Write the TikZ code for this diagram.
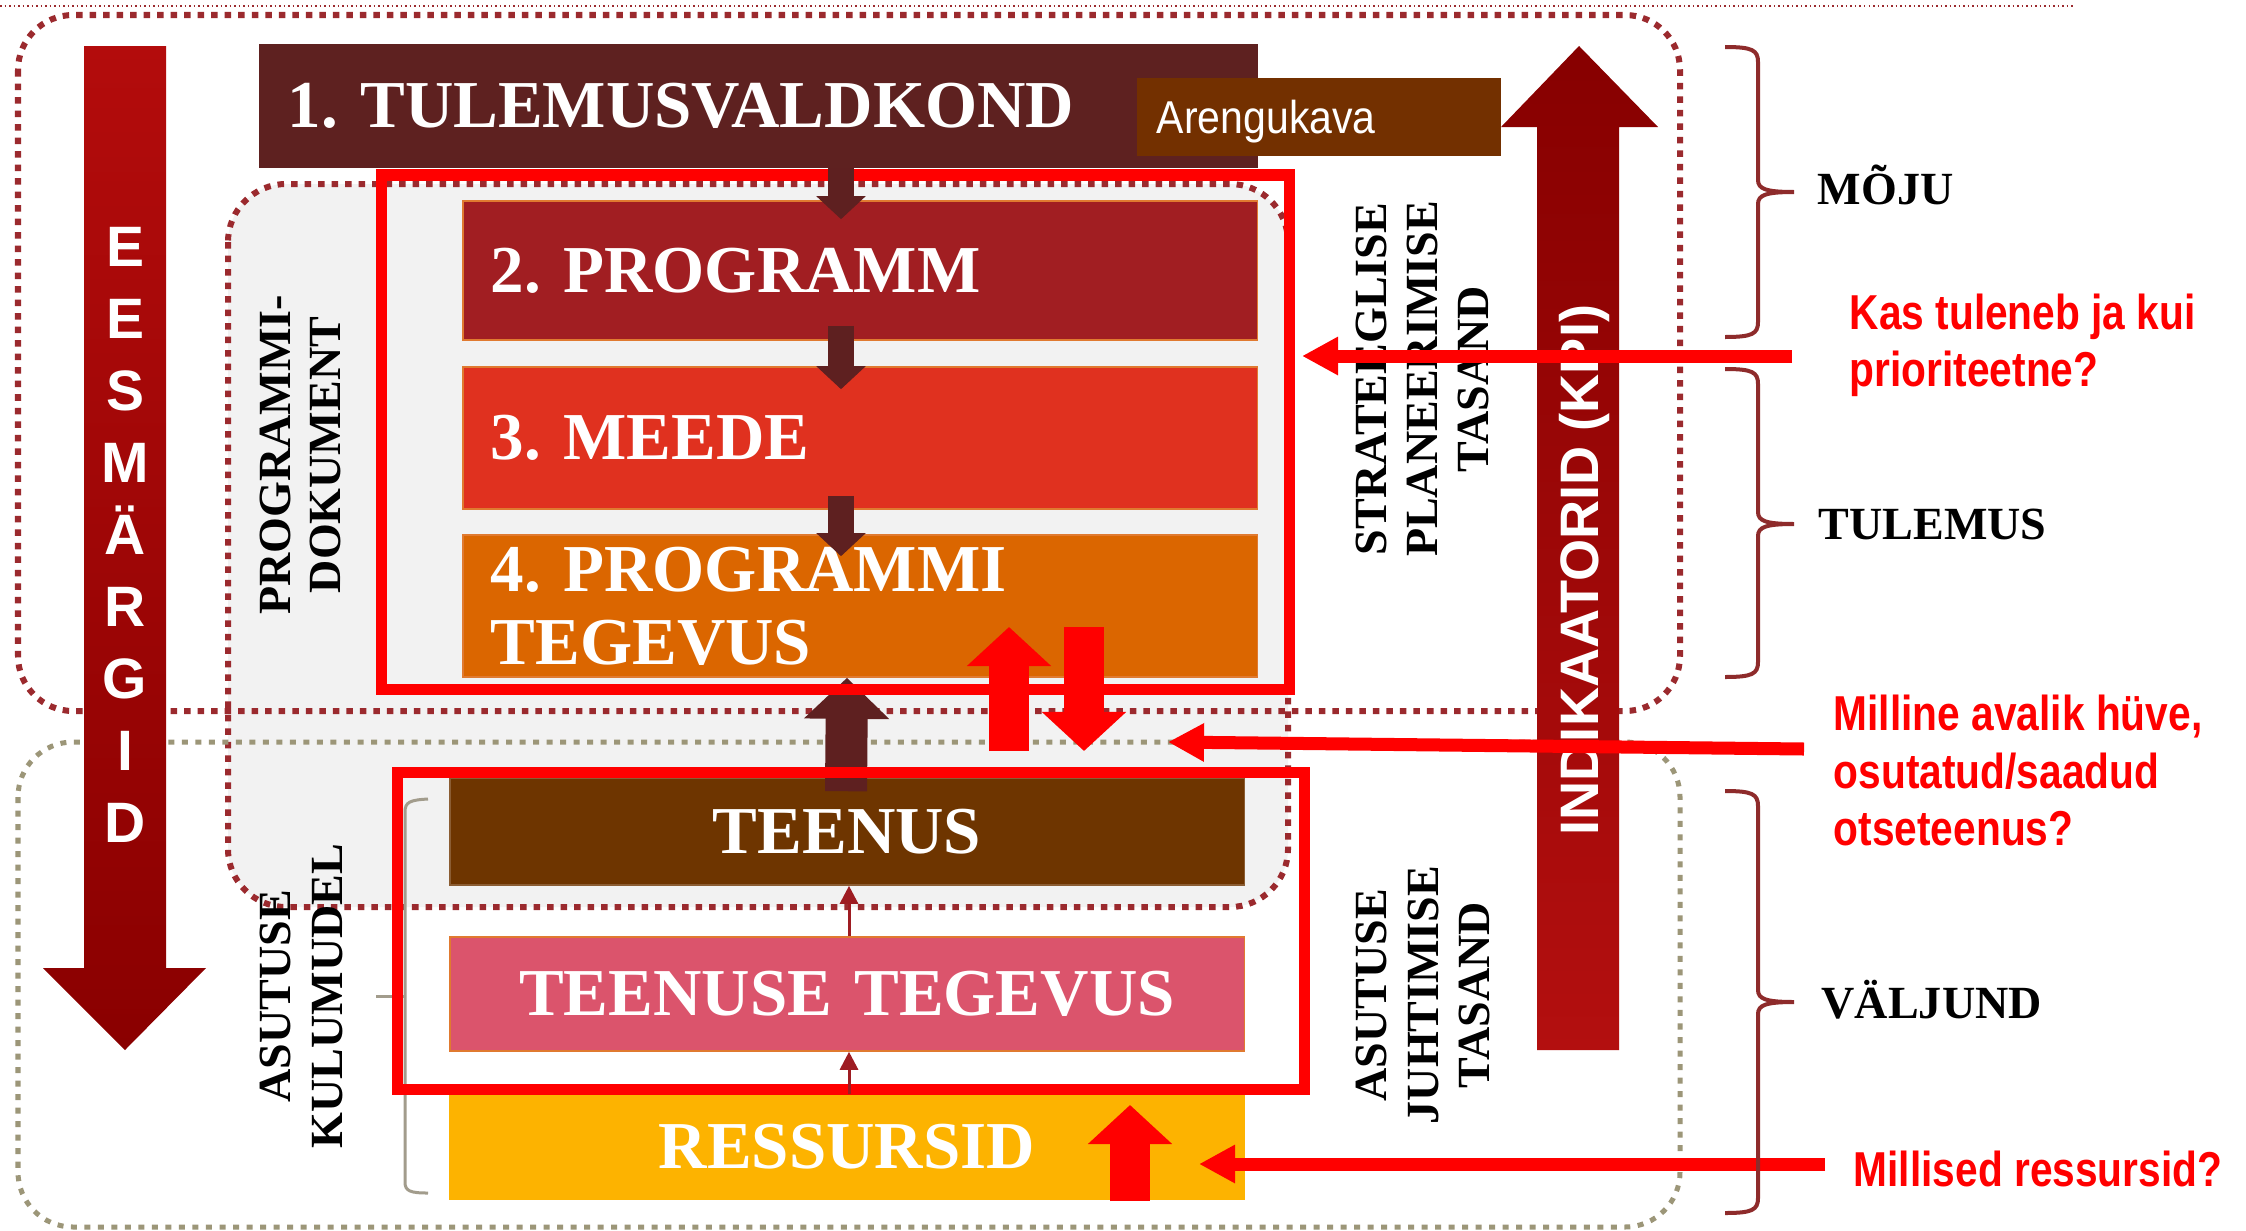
\documentclass[tikz,border=0pt]{standalone}
\usepackage{fontspec}
\setmainfont{Liberation Serif}
\newfontfamily\condsans[FakeStretch=0.89]{Liberation Sans}
\newfontfamily\qsans[FakeStretch=0.83]{Liberation Sans}
\newfontfamily\plainsans{Liberation Sans}
\usetikzlibrary{arrows.meta,calc}
\frenchspacing
\definecolor{cTul}{HTML}{5E2120}
\definecolor{cAren}{HTML}{733000}
\definecolor{cProg}{HTML}{A11E22}
\definecolor{cMeede}{HTML}{E0311F}
\definecolor{cPtg}{HTML}{DB6600}
\definecolor{cTeen}{HTML}{6E3500}
\definecolor{cTte}{HTML}{DB546C}
\definecolor{cRes}{HTML}{FDB300}
\definecolor{cGrayFill}{HTML}{F2F2F2}
\definecolor{cDot}{HTML}{9B2A2E}
\definecolor{cGray}{HTML}{9C9678}
\definecolor{cBrace}{HTML}{8E2B2B}
\definecolor{cBrk}{HTML}{A29C8C}
\definecolor{cDark}{HTML}{5E2020}
\definecolor{cThin}{HTML}{9E1C22}
\definecolor{cEdge}{HTML}{E07A30}
\definecolor{cEsTop}{HTML}{B30C0C}
\definecolor{cEsBot}{HTML}{8A0000}
\definecolor{cKpiTop}{HTML}{870000}
\definecolor{cKpiBot}{HTML}{B30F0F}
\definecolor{cRed}{HTML}{FF0000}
\begin{document}
\begin{tikzpicture}[x=0.01cm,y=-0.01cm,
  boxnode/.style={draw=cEdge, line width=0.015cm, inner ysep=0pt, inner xsep=0.28cm,
    text width=7.38cm, text=white, font=\bfseries\fontsize{19.06}{20.8}\selectfont},
  reddots/.style={draw=cDot, line width=0.06cm, dash pattern=on 0.065cm off 0.07cm},
  graydots/.style={draw=cGray, line width=0.05cm, dash pattern=on 0.06cm off 0.075cm},
  redframe/.style={draw=cRed, line width=0.11cm},
  vlabel/.style={rotate=90, anchor=base, inner sep=0pt, font=\bfseries\fontsize{13.1}{14}\selectfont},
  rlabel/.style={anchor=base west, inner sep=0pt, font=\bfseries\fontsize{13.1}{14}\selectfont},
  qtext/.style={anchor=base west, inner sep=0pt, text=cRed, font=\qsans\bfseries\fontsize{13.94}{16}\selectfont},
  esl/.style={anchor=base, inner sep=0pt, text=white, font=\plainsans\bfseries\fontsize{16.2}{18}\selectfont},
  darkarr/.style={draw=cDark, line width=0.26cm, -{Triangle[length=0.23cm,width=0.48cm]}},
  bigdark/.style={draw=cDark, line width=0.42cm, -{Triangle[length=0.41cm,width=0.83cm]}},
  thinarr/.style={draw=cThin, line width=0.03cm, -{Triangle[length=0.18cm,width=0.18cm]}},
  redarr/.style={draw=cRed, line width=0.13cm, -{Triangle[length=0.36cm,width=0.36cm]}},
  redblk/.style={draw=cRed, line width=0.40cm, -{Triangle[length=0.39cm,width=0.82cm]}},
  bracest/.style={draw=cBrace, line width=0.04cm}
]
\useasboundingbox (0,0) rectangle (2246,1230);
\fill[white] (0,0) rectangle (2246,1230);

% programmi-dokument area
\path[fill=cGrayFill, reddots, rounded corners=0.58cm] (228,184) rectangle (1288,907);

% outer dotted frames
\draw[draw=cDot, line width=0.015cm, dash pattern=on 0.015cm off 0.03cm] (0,6) -- (2074,6);
\draw[reddots, rounded corners=0.55cm] (18,15) rectangle (1680,711);
\draw[graydots, rounded corners=0.55cm] (18,742) rectangle (1680,1227);

% EESMARGID arrow
\shade[top color=cEsTop, bottom color=cEsBot]
  (84,46) -- (166,46) -- (166,968) -- (206,968) -- (125,1050) -- (43,968) -- (84,968) -- cycle;
\foreach \l [count=\i] in {E,E,S,M,Ä,R,G,I,D} {
  \node[esl] (es\i) at (125,{194+72*\i}) {\l};
}

% INDIKAATORID arrow
\shade[top color=cKpiTop, bottom color=cKpiBot]
  (1579,46) -- (1658,127) -- (1619,127) -- (1619,1050) -- (1537,1050) -- (1537,127) -- (1501,127) -- cycle;
\node[rotate=90, anchor=base, inner sep=0pt, text=white, font=\plainsans\bfseries\fontsize{15.4}{17}\selectfont]
  (kpi) at (1598,570) {INDIKAATORID (KPI)};

% vertical labels
\node[vlabel] (pd1) at (290,455) {PROGRAMMI-};
\node[vlabel] (pd2) at (340,455) {DOKUMENT};
\node[vlabel] (st1) at (1386,379) {STRATEEGLISE};
\node[vlabel] (st2) at (1437,379) {PLANEERIMISE};
\node[vlabel] (st3) at (1488,379) {TASAND};
\node[vlabel] (aj1) at (1386,995) {ASUTUSE};
\node[vlabel] (aj2) at (1438,995) {JUHTIMISE};
\node[vlabel] (aj3) at (1489,995) {TASAND};
\node[vlabel] (ak1) at (290,996) {ASUTUSE};
\node[vlabel] (ak2) at (342,996) {KULUMUDEL};

% gray bracket
\draw[draw=cBrk, line width=0.03cm] (428,799) .. controls (410,800) and (405,802) .. (405,812)
  -- (405,1182) .. controls (405,1191) and (410,1193) .. (428,1193);
\draw[draw=cBrk, line width=0.03cm] (376,996) -- (405,996);

% boxes
\node[boxnode, fill=cTul, draw=cTul, text width=9.41cm, minimum height=1.22cm, align=left] (b1) at (758.5,106) {1. TULEMUSVALDKOND};
\node[boxnode, fill=cProg, minimum height=1.39cm, align=left] (b2) at (860,270.5) {2. PROGRAMM};
\node[boxnode, fill=cMeede, minimum height=1.42cm, align=left] (b3) at (860,438) {3. MEEDE};
\node[boxnode, fill=cPtg, minimum height=1.42cm, align=left] (b4) at (860,606) {4. PROGRAMMI\\TEGEVUS};
\node[boxnode, fill=cTeen, draw=cTeen!80!white, minimum height=1.07cm, align=center] (tt) at (847,831.5) {TEENUS};
\node[boxnode, fill=cTte, minimum height=1.14cm, align=center] (te) at (847,994) {TEENUSE TEGEVUS};
\node[boxnode, fill=cRes, draw=cRes, minimum height=1.04cm, align=center] (rs) at (847,1147) {RESSURSID};
\node[fill=cAren, inner ysep=0pt, inner xsep=0.2cm, text width=3.24cm, minimum height=0.78cm, align=left,
  text height=0.33cm, text depth=0pt, text=white, font=\condsans\fontsize{13.1}{14}\selectfont] (ar) at (1319,117) {Arengukava};

% big dark arrow TEENUS -> PROGRAMMI TEGEVUS
\draw[bigdark] ($(tt.north)+(-1,14)$) -- (tt.north |- b4.south);

% red frames
\draw[redframe] (381,175) rectangle (1289,689);
\draw[redframe] (397,772) rectangle (1304,1089);

% small dark connectors
\coordinate (ax) at (841,0);
\draw[darkarr] (b1.south -| ax) -- ($(b2.north -| ax)+(0,19)$);
\draw[darkarr] ($(b2.south -| ax)+(0,-15)$) -- ($(b3.north -| ax)+(0,23)$);
\draw[darkarr] ($(b3.south -| ax)+(0,-14)$) -- ($(b4.north -| ax)+(0,22)$);

% thin connectors
\coordinate (tx) at (849,0);
\draw[thinarr] (te.north -| tx) -- (tt.south -| tx);
\draw[thinarr] (rs.north -| tx) -- (te.south -| tx);

% red block arrows
\coordinate (ua) at (1009,751);
\coordinate (ub) at (1009,627);
\coordinate (da) at (1084,627);
\coordinate (db) at (1084,751);
\coordinate (ra) at (1130,1201);
\coordinate (rb) at (1130,1105);
\draw[redblk] (ua) -- (ub);
\draw[redblk] (da) -- (db);
\draw[redblk] (ra) -- (rb);

% red pointer arrows
\coordinate (p1s) at (1792,356);
\coordinate (p1t) at (1302,356);
\coordinate (p2s) at (1804,749);
\coordinate (p2t) at (1168,742);
\coordinate (p3s) at (1825,1164);
\coordinate (p3t) at (1199,1164);
\draw[redarr] (p1s) -- (p1t);
\draw[redarr] (p2s) -- (p2t);
\draw[redarr] (p3s) -- (p3t);

% braces
\foreach \t/\m/\b in {47/192/337, 369/524/677, 791/1002/1213} {
  \draw[bracest] (1725,\t) .. controls (1752,\t) and (1758,{\t+3}) .. (1758,{\t+15})
    -- (1758,{\m-12}) .. controls (1758,{\m-3}) and (1766,\m) .. (1794,\m)
    .. controls (1766,\m) and (1758,{\m+3}) .. (1758,{\m+12})
    -- (1758,{\b-15}) .. controls (1758,{\b-3}) and (1752,\b) .. (1725,\b);
}
\node[rlabel] (moju) at (1817,204) {MÕJU};
\node[rlabel] (tulemus) at (1818,539) {TULEMUS};
\node[rlabel] (valjund) at (1821,1018) {VÄLJUND};

% questions
\node[qtext] (q1a) at (1849,329) {Kas tuleneb ja kui};
\node[qtext] (q1b) at (1849,386) {prioriteetne?};
\node[qtext] (q2a) at (1833,730) {Milline avalik hüve,};
\node[qtext] (q2b) at (1833,788) {osutatud/saadud};
\node[qtext] (q2c) at (1833,845) {otseteenus?};
\node[qtext] (q3) at (1853,1186) {Millised ressursid?};
\end{tikzpicture}
\end{document}
